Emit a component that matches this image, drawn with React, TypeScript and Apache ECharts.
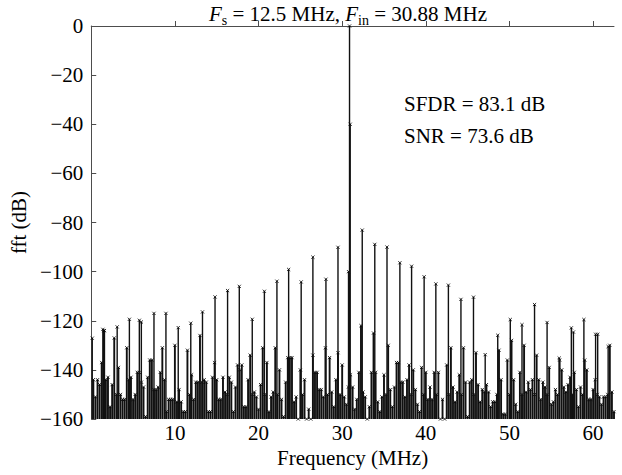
import React, { useEffect, useRef } from "react";
import * as echarts from "echarts";

// ---- data ----
const BIN_MHZ = 0.25; // noise-floor bins, first bin at 0.25 MHz
const NOISE_DB = [
  -144, -151, -144, -146, -137, -124, -144, -143, -155, -146,
  -127, -150, -139, -150, -152, -152, -131, -144, -143, -152,
  -150, -141, -141, -145, -147, -159, -143, -136, -136, -148,
  -148, -147, -141, -131, -144, -157, -152, -152, -152, -130,
  -153, -148, -153, -157, -157, -132, -150, -142, -152, -145,
  -145, -126, -145, -144, -145, -157, -157, -143, -137, -144,
  -152, -152, -143, -149, -150, -143, -145, -157, -147, -138,
  -140, -138, -155, -155, -144, -134, -150, -149, -151, -156,
  -146, -131, -150, -137, -157, -151, -149, -131, -150, -140,
  -152, -159, -145, -135, -135, -135, -153, -151, -160, -140,
  -150, -144, -160, -156, -160, -134, -141, -141, -148, -148,
  -151, -131, -150, -135, -149, -155, -144, -133, -150, -138,
  -151, -154, -147, -142, -147, -156, -152, -141, -122, -149,
  -151, -160, -155, -141, -125, -141, -153, -157, -151, -142,
  -150, -130, -148, -155, -147, -137, -137, -145, -145, -151,
  -144, -138, -150, -140, -148, -154, -157, -139, -150, -141,
  -152, -147, -152, -141, -150, -141, -160, -152, -160, -138,
  -150, -131, -147, -153, -149, -142, -150, -131, -145, -159,
  -145, -144, -150, -133, -146, -153, -148, -149, -146, -149,
  -155, -153, -153, -150, -132, -144, -158, -158, -136, -150,
  -128, -144, -154, -157, -141, -150, -130, -149, -145, -148,
  -144, -150, -134, -144, -152, -145, -147, -150, -139, -154,
  -153, -148, -150, -136, -140, -147, -149, -146, -143, -150,
  -141, -148, -155, -147, -150, -136, -140, -152, -152, -148,
  -144, -150, -151, -154, -151, -151, -150, -130, -149, -157,
];

// fundamental, its leakage neighbours and the spurs (MHz, dB)
const SPUR_FREQ = [
  0.12, 1.39, 1.58, 3.1, 4.56, 5.75, 5.99, 7.5, 8.93, 10.4,
  11.9, 13.3, 14.8, 16.3, 17.7, 19.25, 20.7, 22.2, 23.6, 25.1,
  26.5, 28.06, 29.5, 30.76, 30.88, 30.96, 32.4, 33.9, 35.36, 36.9,
  38.3, 39.8, 41.2, 42.7, 44.2, 45.7, 47.1, 48.6, 50.1, 51.5,
  53.0, 54.5, 55.95, 57.4, 57.65, 58.9, 60.3, 60.55, 61.8,
];
const SPUR_DB = [
  -127.1, -123.5, -124, -122.5, -119.4, -119.8, -120.5, -117, -117, -122.8,
  -121, -116.4, -110.3, -107.7, -106, -119.4, -108, -103.9, -99.1, -104.2,
  -94.1, -103.1, -90.1, -100, 0, -40, -83.1, -88.9, -90, -96.4,
  -97.8, -102.1, -105, -105.5, -111.3, -110.4, -133.8, -125.9, -119.5, -121.6,
  -113.4, -120.7, -135.2, -122.9, -124.6, -119.5, -125.5, -125.5, -130.5,
];

const X_TICKS = [10, 20, 30, 40, 50, 60];
const Y_MIN = -160;
const Y_MAX = 0;
const TITLE_FS = "12.5 MHz";
const TITLE_FIN = "30.88 MHz";
const SFDR_TEXT = "SFDR = 83.1 dB";
const SNR_TEXT = "SNR = 73.6 dB";

const FONT = "Liberation Serif";

function stemRenderer(stroke: string, width: number) {
  return (_params: any, api: any) => {
    const f = api.value(0);
    const db = api.value(1);
    const top = api.coord([f, db]);
    const base = api.coord([f, Y_MIN]);
    const s = 1.6;
    return {
      type: "group",
      children: [
        {
          type: "line",
          shape: { x1: top[0], y1: base[1], x2: top[0], y2: top[1] },
          style: { stroke, lineWidth: width },
        },
        {
          type: "line",
          shape: { x1: top[0] - s, y1: top[1] - s, x2: top[0] + s, y2: top[1] + s },
          style: { stroke: "#000", lineWidth: 0.8 },
        },
        {
          type: "line",
          shape: { x1: top[0] - s, y1: top[1] + s, x2: top[0] + s, y2: top[1] - s },
          style: { stroke: "#000", lineWidth: 0.8 },
        },
      ],
    };
  };
}

export default function App() {
  const ref = useRef<HTMLDivElement>(null);

  useEffect(() => {
    if (!ref.current) return;
    const chart = echarts.init(ref.current, null, { renderer: "svg" });
    const noiseData = NOISE_DB.map((v, i) => [(i + 1) * BIN_MHZ, v]);
    const spurData = SPUR_FREQ.map((f, i) => [f, SPUR_DB[i]]);
    const axisColor = "#4d4d4d";

    chart.setOption({
      animation: false,
      backgroundColor: "#ffffff",
      textStyle: { fontFamily: FONT },
      title: {
        left: 209,
        top: 1,
        padding: 0,
        text: `{i|F}{sub|s}{n| = ${TITLE_FS}, }{i|F}{sub|in}{n| = ${TITLE_FIN}}`,
        textStyle: {
          fontFamily: FONT,
          fontSize: 21,
          fontWeight: "normal",
          color: "#000",
          rich: {
            i: { fontFamily: FONT, fontSize: 21, fontStyle: "italic", color: "#000", lineHeight: 26 },
            n: { fontFamily: FONT, fontSize: 21, color: "#000", lineHeight: 26 },
            sub: { fontFamily: FONT, fontSize: 14, color: "#000", lineHeight: 6, verticalAlign: "bottom" },
          },
        },
      },
      grid: { left: 89, top: 26, width: 525, height: 393, containLabel: false },
      xAxis: {
        type: "value",
        min: 0,
        max: 62.5,
        interval: 10,
        name: "Frequency (MHz)",
        nameLocation: "middle",
        nameGap: 28,
        nameTextStyle: { fontFamily: FONT, fontSize: 21, color: "#000" },
        axisLine: { show: true, lineStyle: { color: axisColor, width: 1 } },
        axisTick: { show: true, inside: true, length: 5, lineStyle: { color: axisColor }, customValues: X_TICKS },
        axisLabel: {
          fontFamily: FONT,
          fontSize: 21,
          color: "#000",
          margin: 3,
          customValues: X_TICKS,
          formatter: (v: number) => (X_TICKS.indexOf(v) >= 0 ? String(v) : ""),
        },
        splitLine: { show: false },
      },
      yAxis: {
        type: "value",
        min: Y_MIN,
        max: Y_MAX,
        interval: 20,
        name: "fft (dB)",
        nameLocation: "middle",
        nameRotate: 90,
        nameGap: 44,
        nameTextStyle: { fontFamily: FONT, fontSize: 21, color: "#000" },
        axisLine: { show: true, lineStyle: { color: axisColor, width: 1 } },
        axisTick: { show: true, inside: true, length: 5, lineStyle: { color: axisColor } },
        axisLabel: {
          fontFamily: FONT,
          fontSize: 21,
          color: "#000",
          margin: 8,
          formatter: (v: number) => (v < 0 ? "\u2212" + Math.abs(v) : String(v)),
        },
        splitLine: { show: false },
      },
      graphic: [
        {
          type: "text",
          x: 404,
          y: 104,
          style: { text: SFDR_TEXT, fontFamily: FONT, fontSize: 21, fill: "#000", verticalAlign: "middle" },
        },
        {
          type: "text",
          x: 404,
          y: 136,
          style: { text: SNR_TEXT, fontFamily: FONT, fontSize: 21, fill: "#000", verticalAlign: "middle" },
        },
      ],
      series: [
        {
          type: "custom",
          name: "noise",
          clip: false,
          data: noiseData,
          encode: { x: 0, y: 1 },
          renderItem: stemRenderer("#111111", 1.9),
        },
        {
          type: "custom",
          name: "spurs",
          clip: false,
          data: spurData,
          encode: { x: 0, y: 1 },
          renderItem: stemRenderer("#111111", 1.4),
        },
      ],
    });
    return () => chart.dispose();
  }, []);

  return (
    <div
      ref={ref}
      style={{ position: "fixed", left: 0, top: 0, width: 622, height: 475, background: "#fff" }}
    />
  );
}
